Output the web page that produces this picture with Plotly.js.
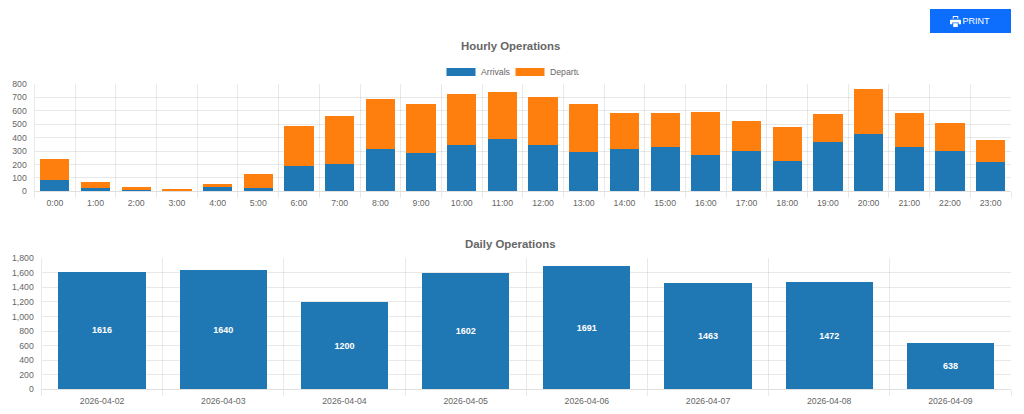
<!DOCTYPE html>
<html>
<head>
<meta charset="utf-8">
<script src="https://cdn.plot.ly/plotly-3.0.1.min.js"></script>
<style>
html,body{margin:0;padding:0;background:#fff;overflow:hidden}
#chart{position:absolute;left:0;top:0;width:1024px;height:414px}
#print{position:absolute;left:930px;top:9px;width:79px;padding-right:2px;height:24px;background:#0d6efd;color:#fff;
font:9px "Liberation Sans",Arial,sans-serif;display:flex;align-items:center;justify-content:center;gap:2px;z-index:5}
</style>
</head>
<body>
<div id="chart"></div>
<div id="print"><svg width="11" height="11" viewBox="0 0 12 12"><path fill="#fff" d="M3 0h6v3H8V1H4v2H3zM1 4h10a1 1 0 0 1 1 1v4h-2.500V7h-7v2H0V5a1 1 0 0 1 1-1zM3.500 8h5v4h-5z"/></svg><span>PRINT</span></div>
<script>
const hours = ["0:00","1:00","2:00","3:00","4:00","5:00","6:00","7:00","8:00","9:00","10:00","11:00","12:00","13:00","14:00","15:00","16:00","17:00","18:00","19:00","20:00","21:00","22:00","23:00"];
const arrivals = [85,22,10,3,35,27,189,201,313,286,346,390,343,291,313,328,267,297,223,364,426,332,304,218];
const departures = [156,48,22,14,20,102,298,358,373,368,380,351,361,360,274,256,325,230,255,213,334,252,206,163];
const days = ["2026-04-02","2026-04-03","2026-04-04","2026-04-05","2026-04-06","2026-04-07","2026-04-08","2026-04-09"];
const dailyOps = [1616,1640,1200,1602,1691,1463,1472,638];

const W = 1024, H = 414;
const grid = "rgba(0,0,0,0.085)", txt = "#666";
const tickSize = 8.7;
const font = {family:'"Liberation Sans",Arial,sans-serif', size:tickSize, color:txt};
const xaxisBase = {type:"category", tickson:"boundaries", ticks:"outside", ticklen:6, tickcolor:grid, tickwidth:1, ticklabelstandoff:3,
  showgrid:true, gridcolor:grid, gridwidth:1, showline:true, linecolor:"rgba(0,0,0,0.12)", zeroline:false, fixedrange:true, tickangle:0, automargin:false};
const yaxisBase = {ticks:"", showgrid:true, gridcolor:grid, gridwidth:1, showline:true, linecolor:grid, zeroline:false, fixedrange:true, ticklabelstandoff:5, automargin:false};

const traces = [
 {type:"bar", name:"Arrivals", x:hours, y:arrivals, marker:{color:"#1f77b4"}, xaxis:"x", yaxis:"y", hoverinfo:"none"},
 {type:"bar", name:"Departures", x:hours, y:departures, marker:{color:"#ff7f0e"}, xaxis:"x", yaxis:"y", hoverinfo:"none"},
 {type:"bar", name:"Operations", x:days, y:dailyOps, marker:{color:"#1f77b4"}, xaxis:"x2", yaxis:"y2", showlegend:false, hoverinfo:"none",
  text:dailyOps.map(String), textposition:"inside", insidetextanchor:"middle", textangle:0, constraintext:"none",
  textfont:{color:"#fff", size:9, weight:"bold", family:'"Liberation Sans",Arial,sans-serif'}}
];

const layout = {
  width:W, height:H, margin:{l:0,r:0,t:0,b:0,pad:0}, paper_bgcolor:"#fff", plot_bgcolor:"#fff", font:font,
  barmode:"stack", bargap:0.28, showlegend:true,
  legend:{orientation:"h", traceorder:"normal", x:510/W, xanchor:"center", y:1-72/H, yanchor:"middle", font:{size:tickSize,color:txt}, itemwidth:30, itemclick:false, itemdoubleclick:false, bgcolor:"rgba(0,0,0,0)", entrywidthmode:"pixels", entrywidth:24},
  xaxis:Object.assign({}, xaxisBase, {domain:[34.5/W,1011/W], anchor:"y", categoryorder:"array", categoryarray:hours, tickfont:{size:tickSize,color:txt}}),
  yaxis:Object.assign({}, yaxisBase, {domain:[1-191.3/H,1-84/H], anchor:"x", range:[0,800], dtick:100, tickfont:{size:tickSize,color:txt}}),
  xaxis2:Object.assign({}, xaxisBase, {domain:[41.5/W,1011/W], anchor:"y2", categoryorder:"array", categoryarray:days, tickfont:{size:tickSize,color:txt}}),
  yaxis2:Object.assign({}, yaxisBase, {domain:[1-389.3/H,1-258.3/H], anchor:"x2", range:[0,1800], dtick:200, tickformat:",d", tickfont:{size:tickSize,color:txt}}),
  annotations:[
   {text:"<b>Hourly Operations</b>", xref:"paper", yref:"paper", x:510/W, y:1-46/H, xanchor:"center", yanchor:"middle", showarrow:false, font:{size:11.4,color:txt}},
   {text:"<b>Daily Operations</b>", xref:"paper", yref:"paper", x:510/W, y:1-244/H, xanchor:"center", yanchor:"middle", showarrow:false, font:{size:11.4,color:txt}}
  ]
};
Plotly.newPlot("chart", traces, layout, {displayModeBar:false, staticPlot:true}).then(function(gd){
  // widen the legend swatches to the wide-box style of the reference
  gd.querySelectorAll(".legend .legendpoints path").forEach(function(p){
    p.setAttribute("d","M14.500,4H-14.500V-4H14.500Z");
  });
});
</script>
</body>
</html>
